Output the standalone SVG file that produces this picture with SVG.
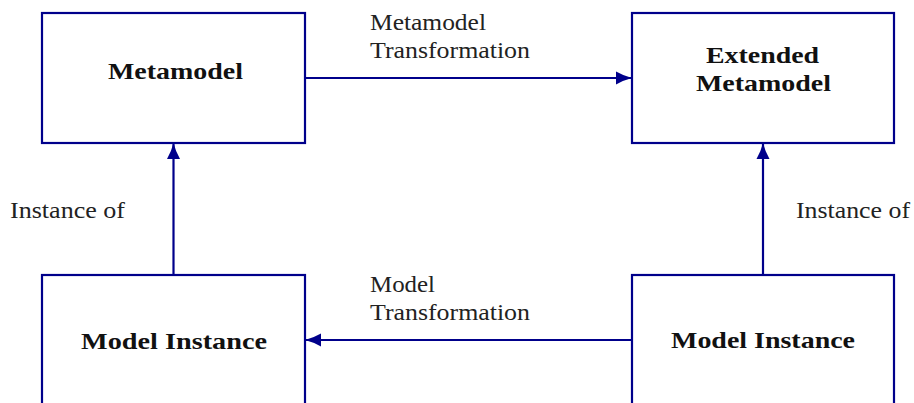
<svg xmlns="http://www.w3.org/2000/svg" width="914" height="403" viewBox="0 0 914 403">
  <style>
    .box { fill: #ffffff; stroke: #00008b; stroke-width: 2.2; }
    .edge { fill: none; stroke: #00008b; stroke-width: 2.2; }
    .title { font-family: "Liberation Serif", "Times New Roman", serif; font-weight: bold; font-size: 24px; fill: #111111; }
    .label { font-family: "Liberation Serif", "Times New Roman", serif; font-size: 24px; fill: #222222; }
  </style>
  <defs>
    <marker id="head" markerUnits="userSpaceOnUse" markerWidth="18" markerHeight="14" refX="16" refY="7" orient="auto">
      <path d="M0,0.5 Q8,5 16,7 Q8,9 0,13.5 Z" fill="#00008b"/>
    </marker>
  </defs>
  <rect width="914" height="403" fill="#ffffff"/>

  <g id="connectors">
    <line class="edge" x1="305" y1="78" x2="632" y2="78" marker-end="url(#head)"/>
    <line class="edge" x1="173.5" y1="275" x2="173.5" y2="143" marker-end="url(#head)"/>
    <line class="edge" x1="763" y1="275" x2="763" y2="143" marker-end="url(#head)"/>
    <line class="edge" x1="632" y1="340" x2="305" y2="340" marker-end="url(#head)"/>
    <text class="label" x="370" y="30" textLength="116" lengthAdjust="spacingAndGlyphs">Metamodel</text>
    <text class="label" x="370" y="58" textLength="160" lengthAdjust="spacingAndGlyphs">Transformation</text>
    <text class="label" x="370" y="292" textLength="65" lengthAdjust="spacingAndGlyphs">Model</text>
    <text class="label" x="370" y="320" textLength="160" lengthAdjust="spacingAndGlyphs">Transformation</text>
    <text class="label" x="10" y="218" textLength="115" lengthAdjust="spacingAndGlyphs">Instance of</text>
    <text class="label" x="796" y="218" textLength="114" lengthAdjust="spacingAndGlyphs">Instance of</text>
  </g>

  <g id="metamodel">
    <rect class="box" x="42" y="13" width="263" height="130"/>
    <text class="title" x="108" y="79" textLength="135" lengthAdjust="spacingAndGlyphs">Metamodel</text>
  </g>

  <g id="extended-metamodel">
    <rect class="box" x="632" y="13" width="262" height="130"/>
    <text class="title" x="706" y="63" textLength="113" lengthAdjust="spacingAndGlyphs">Extended</text>
    <text class="title" x="696" y="91" textLength="135" lengthAdjust="spacingAndGlyphs">Metamodel</text>
  </g>

  <g id="model-instance-source">
    <rect class="box" x="632" y="275" width="262" height="200"/>
    <text class="title" x="671" y="348" textLength="184" lengthAdjust="spacingAndGlyphs">Model Instance</text>
  </g>

  <g id="model-instance-target">
    <rect class="box" x="42" y="275" width="263" height="200"/>
    <text class="title" x="81" y="349" textLength="186" lengthAdjust="spacingAndGlyphs">Model Instance</text>
  </g>
</svg>
